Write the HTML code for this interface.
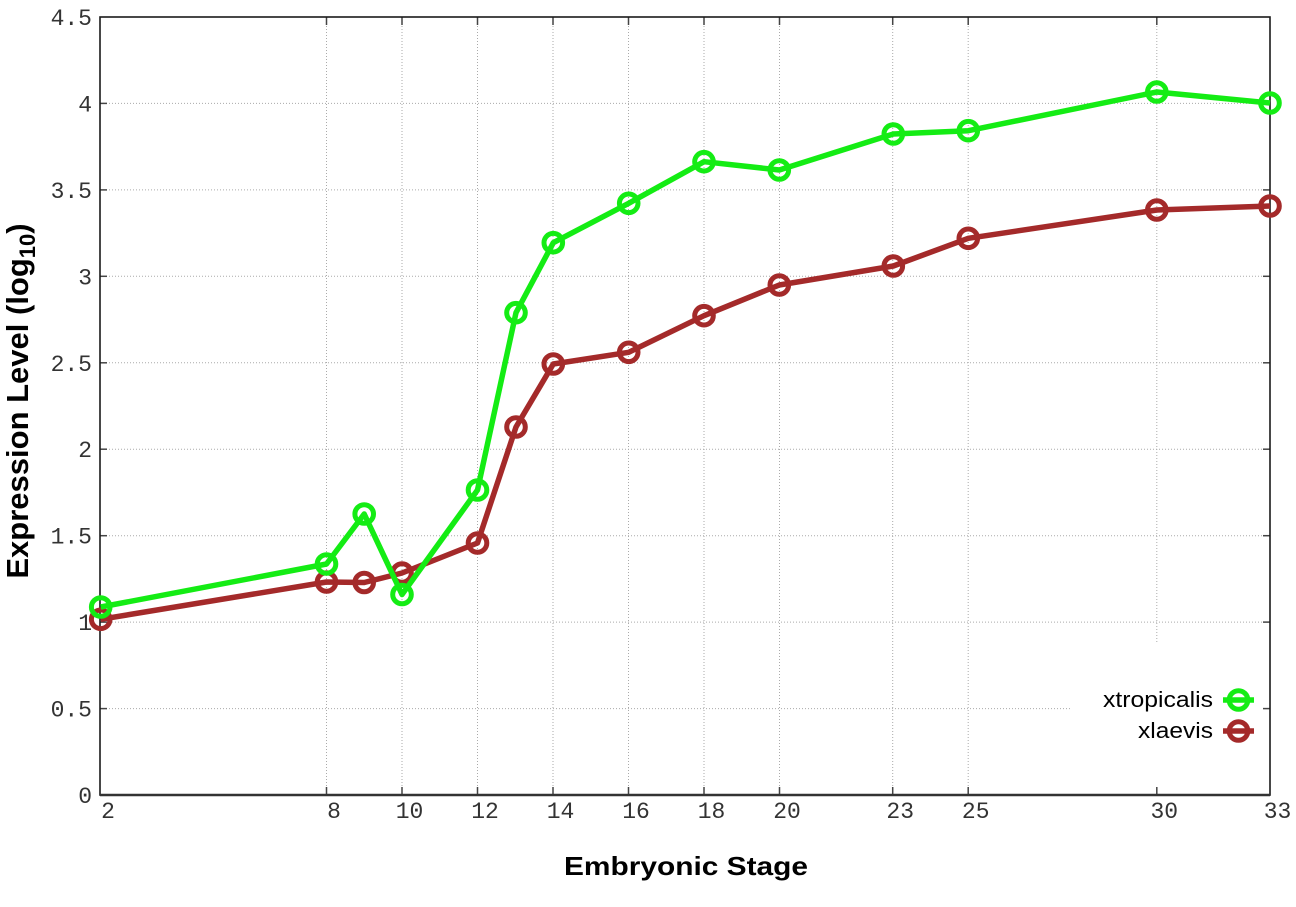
<!DOCTYPE html>
<html>
<head>
<meta charset="utf-8">
<style>
html,body{margin:0;padding:0;background:#fff;}
svg{display:block;}
.tk{font-family:"Liberation Mono","DejaVu Sans Mono",monospace;font-size:23px;fill:#333;}
.lab{font-family:"Liberation Sans",Arial,sans-serif;font-weight:bold;fill:#000;}
.key{font-family:"Liberation Sans",Arial,sans-serif;font-size:22px;fill:#000;}
</style>
</head>
<body>
<svg width="1296" height="907" viewBox="0 0 1296 907" xmlns="http://www.w3.org/2000/svg">
<rect x="0" y="0" width="1296" height="907" fill="#fff"/>
<!-- grid -->
<g stroke="#aaa" stroke-width="1" stroke-dasharray="1,2" fill="none">
  <line x1="100" y1="708.6" x2="1270" y2="708.6"/>
  <line x1="100" y1="622.1" x2="1270" y2="622.1"/>
  <line x1="100" y1="535.7" x2="1270" y2="535.7"/>
  <line x1="100" y1="449.2" x2="1270" y2="449.2"/>
  <line x1="100" y1="362.8" x2="1270" y2="362.8"/>
  <line x1="100" y1="276.3" x2="1270" y2="276.3"/>
  <line x1="100" y1="189.9" x2="1270" y2="189.9"/>
  <line x1="100" y1="103.4" x2="1270" y2="103.4"/>
  <line x1="326.5" y1="17" x2="326.5" y2="795"/>
  <line x1="402" y1="17" x2="402" y2="795"/>
  <line x1="477.5" y1="17" x2="477.5" y2="795"/>
  <line x1="553" y1="17" x2="553" y2="795"/>
  <line x1="628.5" y1="17" x2="628.5" y2="795"/>
  <line x1="704" y1="17" x2="704" y2="795"/>
  <line x1="779.5" y1="17" x2="779.5" y2="795"/>
  <line x1="892.7" y1="17" x2="892.7" y2="795"/>
  <line x1="968.2" y1="17" x2="968.2" y2="795"/>
  <line x1="1156.8" y1="17" x2="1156.8" y2="795"/>
</g>
<!-- key box (opaque) -->
<rect x="1070" y="642" width="198" height="151" fill="#fff"/>
<!-- ticks -->
<g stroke="#444" stroke-width="1.5">
  <line x1="100" y1="708.6" x2="107" y2="708.6"/><line x1="1270" y1="708.6" x2="1263" y2="708.6"/>
  <line x1="100" y1="622.1" x2="107" y2="622.1"/><line x1="1270" y1="622.1" x2="1263" y2="622.1"/>
  <line x1="100" y1="535.7" x2="107" y2="535.7"/><line x1="1270" y1="535.7" x2="1263" y2="535.7"/>
  <line x1="100" y1="449.2" x2="107" y2="449.2"/><line x1="1270" y1="449.2" x2="1263" y2="449.2"/>
  <line x1="100" y1="362.8" x2="107" y2="362.8"/><line x1="1270" y1="362.8" x2="1263" y2="362.8"/>
  <line x1="100" y1="276.3" x2="107" y2="276.3"/><line x1="1270" y1="276.3" x2="1263" y2="276.3"/>
  <line x1="100" y1="189.9" x2="107" y2="189.9"/><line x1="1270" y1="189.9" x2="1263" y2="189.9"/>
  <line x1="100" y1="103.4" x2="107" y2="103.4"/><line x1="1270" y1="103.4" x2="1263" y2="103.4"/>
  <line x1="326.5" y1="795" x2="326.5" y2="787"/><line x1="326.5" y1="17" x2="326.5" y2="25"/>
  <line x1="402" y1="795" x2="402" y2="787"/><line x1="402" y1="17" x2="402" y2="25"/>
  <line x1="477.5" y1="795" x2="477.5" y2="787"/><line x1="477.5" y1="17" x2="477.5" y2="25"/>
  <line x1="553" y1="795" x2="553" y2="787"/><line x1="553" y1="17" x2="553" y2="25"/>
  <line x1="628.5" y1="795" x2="628.5" y2="787"/><line x1="628.5" y1="17" x2="628.5" y2="25"/>
  <line x1="704" y1="795" x2="704" y2="787"/><line x1="704" y1="17" x2="704" y2="25"/>
  <line x1="779.5" y1="795" x2="779.5" y2="787"/><line x1="779.5" y1="17" x2="779.5" y2="25"/>
  <line x1="892.7" y1="795" x2="892.7" y2="787"/><line x1="892.7" y1="17" x2="892.7" y2="25"/>
  <line x1="968.2" y1="795" x2="968.2" y2="787"/><line x1="968.2" y1="17" x2="968.2" y2="25"/>
  <line x1="1156.8" y1="795" x2="1156.8" y2="787"/><line x1="1156.8" y1="17" x2="1156.8" y2="25"/>
</g>
<!-- border -->
<rect x="100" y="17" width="1170" height="778" fill="none" stroke="#1a1a1a" stroke-width="1.6"/>
<line x1="100" y1="795" x2="1270" y2="795" stroke="#333" stroke-width="2.4"/>
<!-- y tick labels -->
<g class="tk" text-anchor="end">
  <text x="92" y="803">0</text>
  <text x="92" y="716.6">0.5</text>
  <text x="92" y="630.1">1</text>
  <text x="92" y="543.7">1.5</text>
  <text x="92" y="457.2">2</text>
  <text x="92" y="370.8">2.5</text>
  <text x="92" y="284.3">3</text>
  <text x="92" y="197.9">3.5</text>
  <text x="92" y="111.4">4</text>
  <text x="92" y="25">4.5</text>
</g>
<!-- x tick labels -->
<g class="tk" text-anchor="middle">
  <text x="108" y="818">2</text>
  <text x="334" y="818">8</text>
  <text x="409.5" y="818">10</text>
  <text x="485" y="818">12</text>
  <text x="560.5" y="818">14</text>
  <text x="636" y="818">16</text>
  <text x="711.5" y="818">18</text>
  <text x="787" y="818">20</text>
  <text x="900.2" y="818">23</text>
  <text x="975.7" y="818">25</text>
  <text x="1164.3" y="818">30</text>
  <text x="1277.5" y="818">33</text>
</g>
<!-- axis labels -->
<text class="lab" x="686" y="875" font-size="26" text-anchor="middle" textLength="244" lengthAdjust="spacingAndGlyphs">Embryonic Stage</text>
<text class="lab" transform="translate(28,401) rotate(-90)" font-size="31" text-anchor="middle">Expression Level (log<tspan font-size="22" dy="7">10</tspan><tspan dy="-7">)</tspan></text>
<!-- series: xlaevis (brown) -->
<g fill="none" stroke="#a42a2a" stroke-width="5.5" stroke-linejoin="round">
  <polyline points="100.7,619.3 326.5,582 364.2,582.5 402,573 477.5,543 516,427 553.3,364 628.7,352.3 704,315.7 779.3,285 893.3,266 968.3,238.3 1156.8,210 1270,206"/>
</g>
<g fill="none" stroke="#a42a2a" stroke-width="5">
  <circle cx="100.7" cy="619.3" r="9.3"/><circle cx="326.5" cy="582" r="9.3"/><circle cx="364.2" cy="582.5" r="9.3"/>
  <circle cx="402" cy="573" r="9.3"/><circle cx="477.5" cy="543" r="9.3"/><circle cx="516" cy="427" r="9.3"/>
  <circle cx="553.3" cy="364" r="9.3"/><circle cx="628.7" cy="352.3" r="9.3"/><circle cx="704" cy="315.7" r="9.3"/>
  <circle cx="779.3" cy="285" r="9.3"/><circle cx="893.3" cy="266" r="9.3"/><circle cx="968.3" cy="238.3" r="9.3"/>
  <circle cx="1156.8" cy="210" r="9.3"/><circle cx="1270" cy="206" r="9.3"/>
</g>
<!-- series: xtropicalis (green) -->
<g fill="none" stroke="#14ec14" stroke-width="5.5" stroke-linejoin="round">
  <polyline points="100.7,607 326.5,564 364.2,514 402,594.5 477.5,490 516,312.7 553.3,242.7 628.7,203.3 704,161.7 779.3,170 893.3,134 968.3,130.7 1156.8,92 1270,103"/>
</g>
<g fill="none" stroke="#14ec14" stroke-width="5">
  <circle cx="100.7" cy="607" r="9.3"/><circle cx="326.5" cy="564" r="9.3"/><circle cx="364.2" cy="514" r="9.3"/>
  <circle cx="402" cy="594.5" r="9.3"/><circle cx="477.5" cy="490" r="9.3"/><circle cx="516" cy="312.7" r="9.3"/>
  <circle cx="553.3" cy="242.7" r="9.3"/><circle cx="628.7" cy="203.3" r="9.3"/><circle cx="704" cy="161.7" r="9.3"/>
  <circle cx="779.3" cy="170" r="9.3"/><circle cx="893.3" cy="134" r="9.3"/><circle cx="968.3" cy="130.7" r="9.3"/>
  <circle cx="1156.8" cy="92" r="9.3"/><circle cx="1270" cy="103" r="9.3"/>
</g>
<!-- legend -->
<text class="key" x="1213" y="707" text-anchor="end" textLength="110" lengthAdjust="spacingAndGlyphs">xtropicalis</text>
<text class="key" x="1213" y="738" text-anchor="end" textLength="75" lengthAdjust="spacingAndGlyphs">xlaevis</text>
<line x1="1223" y1="700" x2="1254" y2="700" stroke="#14ec14" stroke-width="5.5"/>
<circle cx="1238.5" cy="700" r="9.3" fill="none" stroke="#14ec14" stroke-width="5"/>
<line x1="1223" y1="731" x2="1254" y2="731" stroke="#a42a2a" stroke-width="5.5"/>
<circle cx="1238.5" cy="731" r="9.3" fill="none" stroke="#a42a2a" stroke-width="5"/>
</svg>
</body>
</html>
